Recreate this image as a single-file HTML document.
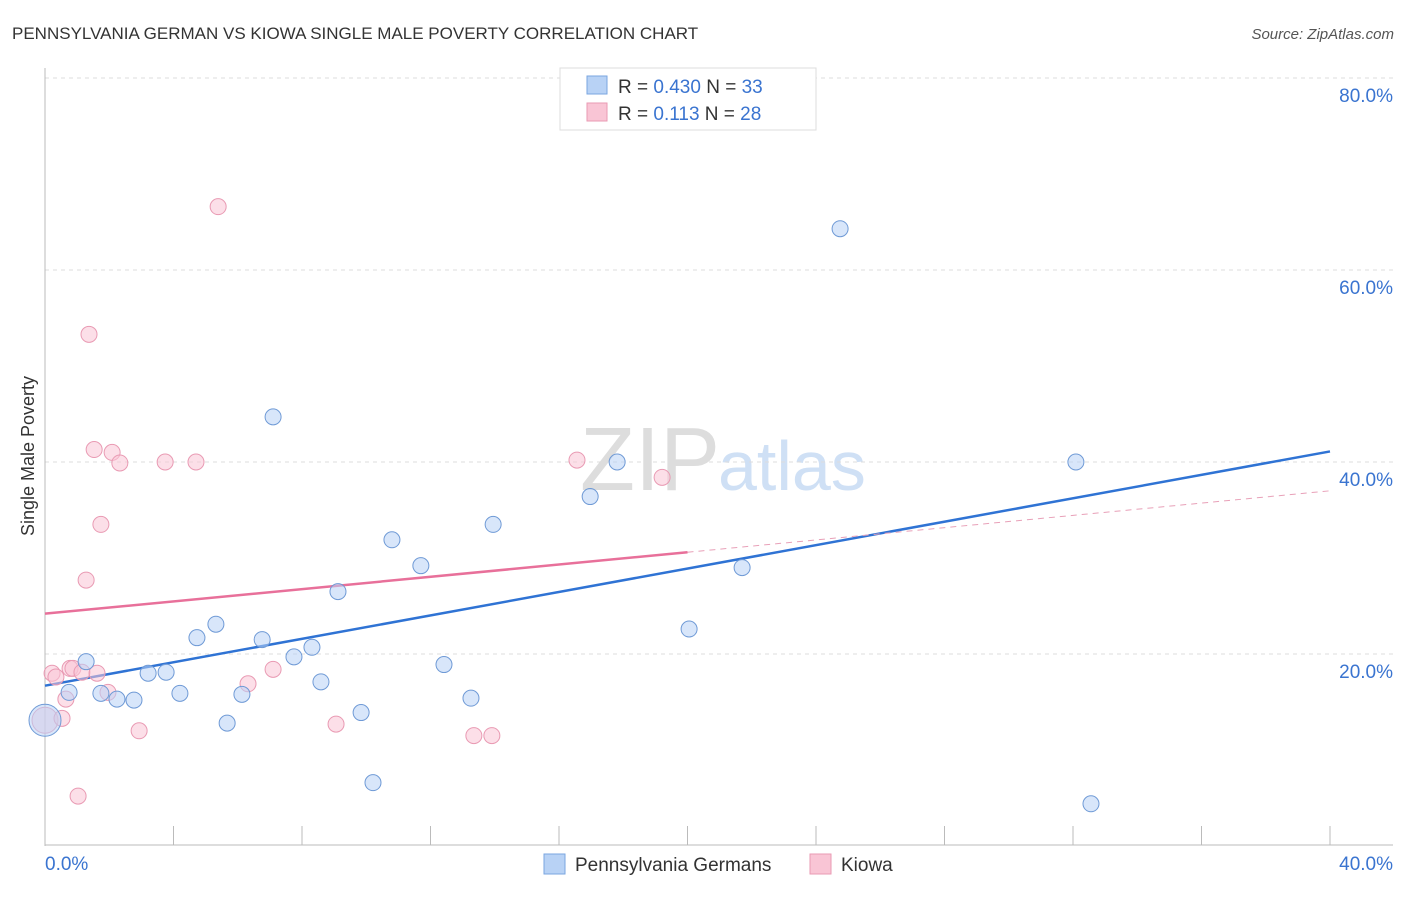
<!DOCTYPE html>
<html><head><meta charset="utf-8"><style>
body{margin:0;background:#fff;font-family:"Liberation Sans",sans-serif;}
svg text{font-family:"Liberation Sans",sans-serif;}
</style></head><body>
<svg id="chart" width="1406" height="892">
<text x="12" y="39" font-size="17" fill="#333">PENNSYLVANIA GERMAN VS KIOWA SINGLE MALE POVERTY CORRELATION CHART</text>
<text x="1394" y="39" font-size="15" fill="#555" font-style="italic" text-anchor="end">Source: ZipAtlas.com</text>
<text x="34" y="456" font-size="18" fill="#333" text-anchor="middle" transform="rotate(-90 34 456)">Single Male Poverty</text>
<text x="720" y="490" font-size="90" fill="#ddd" text-anchor="end" font-family="Liberation Serif">ZIP</text>
<text x="718" y="490" font-size="70" fill="#cfe0f5">atlas</text>
<g id="grid"></g><g id="axes"></g><g id="lines"></g><g id="pts"></g>
<g>
<rect x="560" y="68" width="256" height="62" fill="#fff" stroke="#ddd"/>
<rect x="587" y="76" width="20" height="18" fill="#b8d2f5" stroke="#7aa6e0"/>
<rect x="587" y="103" width="20" height="18" fill="#f9c5d5" stroke="#e99ab3"/>
<text x="618" y="93" font-size="19" fill="#333">R = <tspan fill="#3a74d0">0.430</tspan>   N = <tspan fill="#3a74d0">33</tspan></text>
<text x="618" y="120" font-size="19" fill="#333">R =   <tspan fill="#3a74d0">0.113</tspan>   N = <tspan fill="#3a74d0">28</tspan></text>
</g>
<g>
<rect x="544" y="854" width="21" height="20" fill="#b8d2f5" stroke="#7aa6e0"/>
<text x="575" y="871" font-size="19" fill="#333">Pennsylvania Germans</text>
<rect x="810" y="854" width="21" height="20" fill="#f9c5d5" stroke="#e99ab3"/>
<text x="841" y="871" font-size="19" fill="#333">Kiowa</text>
</g>
</svg>
<script>
const blueX=[0,0.75,1.28,1.74,2.24,2.77,3.21,3.77,4.20,4.73,5.32,5.67,6.13,6.76,7.10,7.75,8.31,8.59,9.12,9.84,10.21,10.80,11.70,12.42,13.26,13.95,16.97,17.81,20.05,21.70,24.75,32.09,32.56];
const blueY=[13.1,16.0,19.2,15.9,15.3,15.2,18.0,18.1,15.9,21.7,23.1,12.8,15.8,21.5,44.7,19.7,20.7,17.1,26.5,13.9,6.6,31.9,29.2,18.9,15.4,33.5,36.4,40.0,22.6,29.0,64.3,40.0,4.4];
const pinkX=[0,0.22,0.34,0.53,0.65,0.78,0.87,1.03,1.15,1.28,1.37,1.53,1.62,1.74,1.96,2.09,2.33,2.93,3.74,4.70,5.39,6.32,7.10,9.06,13.35,13.91,16.56,19.21];
const pinkY=[13.1,18.0,17.6,13.3,15.3,18.5,18.5,5.2,18.1,27.7,53.3,41.3,18.0,33.5,16.0,41.0,39.9,12.0,40.0,40.0,66.6,16.9,18.4,12.7,11.5,11.5,40.2,38.4];
const yTicks=[20,40,60,80];
const blueTrend=[16.7,41.1];
const pinkTrend=[24.2,37.0];
const pinkSolidEnd=20;
const NS="http://www.w3.org/2000/svg";
const sx=v=>45+v/40*1285, sy=v=>846-v*9.6;
function mk(tag,attrs,parent){const e=document.createElementNS(NS,tag);for(const k in attrs)e.setAttribute(k,attrs[k]);document.getElementById(parent).appendChild(e);return e;}
yTicks.forEach(t=>{
 const l=mk('line',{x1:45,x2:1393,y1:sy(t),y2:sy(t),stroke:'#ddd','stroke-dasharray':'4 4'},'grid');
 
 
 const tx=mk('text',{x:1393,y:sy(t)+24,'font-size':19,fill:'#3a74d0','text-anchor':'end'},'grid');
 tx.textContent=t.toFixed(1)+'%';
 
 
});
mk('line',{x1:45,x2:45,y1:68,y2:846,stroke:'#bbb'},'axes');
mk('line',{x1:45,x2:1393,y1:845,y2:845,stroke:'#bbb'},'axes');
for(let i=0;i<=10;i++){mk('line',{x1:sx(i*4),x2:sx(i*4),y1:826,y2:845,stroke:'#bbb'},'axes');}
let a=mk('text',{x:45,y:870,'font-size':19,fill:'#3a74d0'},'axes');a.textContent='0.0%';


a=mk('text',{x:1393,y:870,'font-size':19,fill:'#3a74d0','text-anchor':'end'},'axes');a.textContent='40.0%';


function dot(x,y,fill,stroke,r,name){const c=mk('circle',{cx:sx(x),cy:sy(y),r:r,fill:fill,stroke:stroke,'stroke-width':1,'fill-opacity':0.55},'pts');
 
 }
pinkX.forEach((x,i)=>dot(x,pinkY[i],'#f9c5d5','#e99ab3',i==0?13:8,'kiowa-point'));
blueX.forEach((x,i)=>dot(x,blueY[i],'#b8d2f5','#6f9ad6',i==0?16:8,'pennsylvania-german-point'));
let L=mk('line',{x1:sx(0),y1:sy(blueTrend[0]),x2:sx(40),y2:sy(blueTrend[1]),stroke:'#2f73d4','stroke-width':2.5},'lines');


const pm=pinkTrend[0]+(pinkTrend[1]-pinkTrend[0])*pinkSolidEnd/40;
L=mk('line',{x1:sx(0),y1:sy(pinkTrend[0]),x2:sx(pinkSolidEnd),y2:sy(pm),stroke:'#e8709a','stroke-width':2.5},'lines');


L=mk('line',{x1:sx(pinkSolidEnd),y1:sy(pm),x2:sx(40),y2:sy(pinkTrend[1]),stroke:'#e8a0b8','stroke-width':1,'stroke-dasharray':'6 5'},'lines');


</script>
</body></html>
